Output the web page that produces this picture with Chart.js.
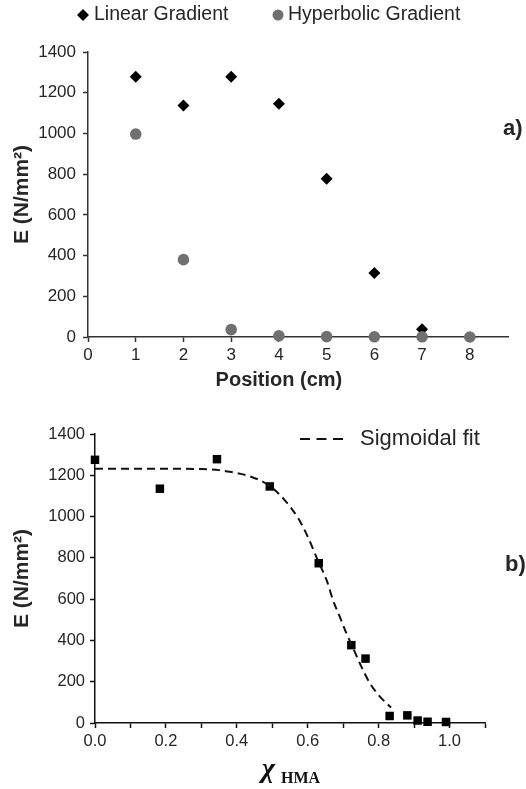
<!DOCTYPE html>
<html>
<head>
<meta charset="utf-8">
<script src="https://cdn.jsdelivr.net/npm/chart.js@4/dist/chart.umd.min.js"></script>
<style>
  body { margin: 0; background: #fff; }
  canvas { position: absolute; left: 0; }
  #chart-a { top: 0; }
  #chart-b { top: 395px; }
</style>
</head>
<body>
<canvas id="chart-a" width="526" height="395"></canvas>
<canvas id="chart-b" width="526" height="394"></canvas>
<script>
// (a) modulus along the sample for both gradient types
const positions = [1, 2, 3, 4, 5, 6, 7, 8];
const linearE = [1278, 1137, 1278, 1146, 777, 315, 38];
const hyperbolicE = [997, 380, 36, 6, 2, 1, 1, 0];
const positionTicks = [0, 1, 2, 3, 4, 5, 6, 7, 8];

// (b) modulus against HMA fraction, with the sigmoidal fit curve
const xHMA = [0.0, 0.183, 0.344, 0.493, 0.631, 0.723, 0.763, 0.831, 0.881, 0.91, 0.938, 0.99];
const measuredE = [1275, 1135, 1278, 1146, 774, 377, 312, 34, 37, 12, 6, 5];
const fitX = [0.0, 0.1, 0.2, 0.3, 0.35, 0.38, 0.44, 0.49, 0.535, 0.573, 0.6, 0.63, 0.653, 0.671, 0.69, 0.709, 0.728, 0.751, 0.775, 0.803, 0.835];
const fitE = [1232, 1232, 1232, 1230, 1225, 1217, 1193, 1152, 1080, 992, 903, 782, 693, 597, 516, 435, 363, 274, 194, 129, 75];

const SANS = '"Liberation Sans", Arial, sans-serif';
const SERIF = '"Liberation Serif", "Times New Roman", serif';
const textColor = '#262626';
const grey = '#707070';

const pts = (xs, ys) => ys.map((y, i) => ({ x: xs[i], y: y }));

function axisStyle(color) {
  return {
    border: { color: color, width: 1.5 },
    grid: { display: true, drawOnChartArea: false, tickLength: 5, tickColor: color, tickWidth: 1.5 }
  };
}

// chart a
const topDecor = {
  id: 'topDecor',
  afterDraw(chart) {
    const ctx = chart.ctx;
    ctx.save();
    // legend
    ctx.fillStyle = '#000';
    ctx.beginPath();
    ctx.moveTo(83, 9); ctx.lineTo(89, 15); ctx.lineTo(83, 21); ctx.lineTo(77, 15);
    ctx.closePath(); ctx.fill();
    ctx.fillStyle = grey;
    ctx.beginPath(); ctx.arc(278, 15, 5.5, 0, Math.PI * 2); ctx.fill();
    ctx.fillStyle = textColor;
    ctx.font = '19.5px ' + SANS;
    ctx.textBaseline = 'middle';
    ctx.textAlign = 'left';
    ctx.fillText('Linear Gradient', 94, 15);
    ctx.fillText('Hyperbolic Gradient', 288, 15);
    // panel label
    ctx.font = 'bold 22px ' + SANS;
    ctx.fillText('a)', 503, 129);
    // x axis title, centred on the 0-8 range
    const xs = chart.scales.x;
    const cx = (xs.getPixelForValue(0) + xs.getPixelForValue(8)) / 2;
    ctx.font = 'bold 20px ' + SANS;
    ctx.textAlign = 'center';
    ctx.fillText('Position (cm)', cx, 380);
    ctx.restore();
  }
};

new Chart(document.getElementById('chart-a'), {
  type: 'scatter',
  data: {
    datasets: [
      {
        label: 'Hyperbolic Gradient',
        data: pts(positions, hyperbolicE),
        pointStyle: 'circle',
        pointRadius: 5.8,
        pointHoverRadius: 5.8,
        backgroundColor: grey,
        borderColor: grey,
        borderWidth: 0,
        clip: false
      },
      {
        label: 'Linear Gradient',
        data: pts(positions, linearE),
        pointStyle: 'rectRot',
        pointRadius: 6,
        pointHoverRadius: 6,
        backgroundColor: '#000',
        borderColor: '#000',
        borderWidth: 0,
        clip: false
      }
    ]
  },
  options: {
    responsive: false,
    devicePixelRatio: 1,
    animation: false,
    layout: { padding: { left: 0, top: 52, right: 18, bottom: 28 } },
    plugins: { legend: { display: false }, tooltip: { enabled: false } },
    scales: {
      x: {
        type: 'linear',
        min: 0,
        max: 8.8,
        ...axisStyle('#333'),
        ticks: { padding: 3, color: textColor, font: { family: SANS, size: 17 }, callback: v => String(v) },
        afterBuildTicks: s => { s.ticks = positionTicks.map(v => ({ value: v })); },
        afterFit: s => { s.height = 30; }
      },
      y: {
        min: 0,
        max: 1400,
        ...axisStyle('#333'),
        ticks: { stepSize: 200, padding: 7, color: textColor, font: { family: SANS, size: 17 }, callback: v => String(v) },
        title: { display: true, text: 'E (N/mm²)', color: textColor, padding: { top: 10, bottom: 0 },
                 font: { family: SANS, size: 21, weight: 'bold' } },
        afterFit: s => { s.width = 88; }
      }
    }
  },
  plugins: [topDecor]
});

// chart b
const bottomDecor = {
  id: 'bottomDecor',
  afterDraw(chart) {
    const ctx = chart.ctx;
    ctx.save();
    // legend
    ctx.strokeStyle = '#111';
    ctx.lineWidth = 2;
    ctx.setLineDash([10, 6.5]);
    ctx.beginPath(); ctx.moveTo(300, 44); ctx.lineTo(347, 44); ctx.stroke();
    ctx.setLineDash([]);
    ctx.fillStyle = textColor;
    ctx.textBaseline = 'middle';
    ctx.font = '22px ' + SANS;
    ctx.fillText('Sigmoidal fit', 360, 44);
    ctx.font = 'bold 22px ' + SANS;
    ctx.fillText('b)', 505, 170);
    // x axis title: chi with subscript HMA
    ctx.textBaseline = 'alphabetic';
    ctx.fillStyle = '#111';
    ctx.font = 'italic bold 28px ' + SERIF;
    ctx.fillText('χ', 262, 382);
    ctx.font = 'bold 16px ' + SERIF;
    ctx.fillText('HMA', 281, 388);
    ctx.restore();
  }
};

new Chart(document.getElementById('chart-b'), {
  type: 'scatter',
  data: {
    datasets: [
      {
        label: 'Sigmoidal fit',
        data: pts(fitX, fitE),
        showLine: true,
        borderColor: '#111',
        borderWidth: 2,
        borderDash: [8, 5],
        cubicInterpolationMode: 'monotone',
        pointRadius: 0,
        pointHoverRadius: 0,
        clip: false
      },
      {
        label: 'Measured',
        data: pts(xHMA, measuredE),
        pointStyle: 'rect',
        pointRadius: 6,
        pointHoverRadius: 6,
        backgroundColor: '#000',
        borderColor: '#000',
        borderWidth: 0,
        clip: false
      }
    ]
  },
  options: {
    responsive: false,
    devicePixelRatio: 1,
    animation: false,
    layout: { padding: { left: 0, top: 39, right: 41, bottom: 36 } },
    plugins: { legend: { display: false }, tooltip: { enabled: false } },
    scales: {
      x: {
        type: 'linear',
        min: 0,
        max: 1.1,
        ...axisStyle('#111'),
        ticks: {
          stepSize: 0.1, padding: 3.5, color: textColor, font: { family: SANS, size: 16.5 },
          callback: v => (Math.round(v * 10) % 2 === 0 && v <= 1.0001) ? v.toFixed(1) : ''
        },
        afterFit: s => { s.height = 30; }
      },
      y: {
        min: 0,
        max: 1400,
        ...axisStyle('#111'),
        ticks: { stepSize: 200, padding: 5, color: textColor, font: { family: SANS, size: 16.5 }, callback: v => String(v) },
        title: { display: true, text: 'E (N/mm²)', color: textColor, padding: { top: 10, bottom: 0 },
                 font: { family: SANS, size: 21, weight: 'bold' } },
        afterFit: s => { s.width = 95; }
      }
    }
  },
  plugins: [bottomDecor]
});
</script>
</body>
</html>
